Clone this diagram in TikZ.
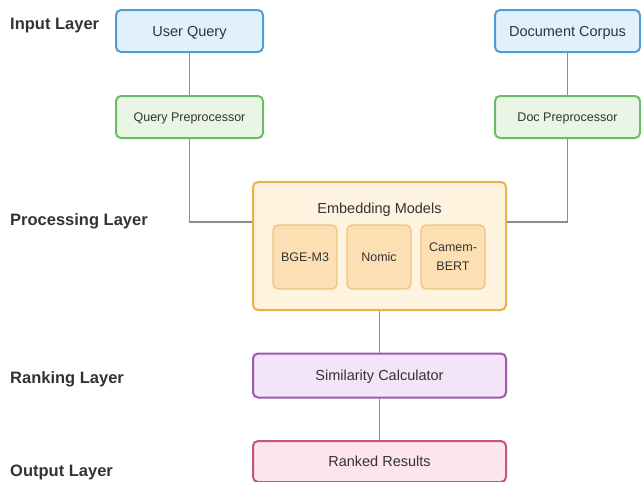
\documentclass[tikz,border=0pt]{standalone}
\usepackage{fontspec}
\setmainfont{Liberation Sans}
\usetikzlibrary{calc}
\definecolor{txt}{HTML}{333333}
\definecolor{wire}{HTML}{8C8C8C}
\definecolor{blueF}{HTML}{E2F0FB}\definecolor{blueD}{HTML}{4C9ED3}
\definecolor{greenF}{HTML}{E9F6E6}\definecolor{greenD}{HTML}{6DBA68}
\definecolor{orangeF}{HTML}{FEF3DF}\definecolor{orangeD}{HTML}{E9B14E}
\definecolor{innerF}{HTML}{FCE0B3}\definecolor{innerD}{HTML}{EFC27E}
\definecolor{purpleF}{HTML}{F4E4F8}\definecolor{purpleD}{HTML}{9A5AAD}
\definecolor{pinkF}{HTML}{FCE5EC}\definecolor{pinkD}{HTML}{C7527C}
\tikzset{
  box/.style={draw, line width=2pt, rounded corners=5pt, align=center,
    text=txt, inner sep=0pt},
  oneline/.style={text depth=0pt},
  inputbox/.style={box, oneline, fill=blueF, draw=blueD, font=\fontsize{14.5}{17}\selectfont},
  prepbox/.style={box, oneline, fill=greenF, draw=greenD, font=\fontsize{12.5}{15}\selectfont},
  modelbox/.style={box, line width=1.3pt, fill=innerF, draw=innerD,
    minimum width=64pt, minimum height=64pt, font=\fontsize{12.5}{19}\selectfont},
  layerlabel/.style={anchor=west, text=txt, inner sep=0pt,
    font=\fontsize{16.5}{19}\selectfont\bfseries},
  link/.style={draw=wire, line width=1.8pt}
}
\begin{document}
\begin{tikzpicture}[x=1pt, y=-1pt]
\useasboundingbox (0,0) rectangle (641,482);

% layer titles
\node[layerlabel] (lin)   at (10,26)  {Input Layer};
\node[layerlabel] (lproc) at (10,221) {Processing Layer};
\node[layerlabel] (lrank) at (10,379) {Ranking Layer};
\node[layerlabel] (lout)  at (10,472) {Output Layer};

% input sources
\node[inputbox, minimum width=147pt, minimum height=42pt] (uq) at (189.5,31) {User Query};
\node[inputbox, minimum width=145pt, minimum height=42pt] (dc) at (567.5,31) {Document Corpus};

% preprocessing
\node[prepbox, minimum width=147pt, minimum height=42pt] (qp) at (189.5,117) {Query Preprocessor};
\node[prepbox, minimum width=145pt, minimum height=42pt] (dp) at (567.5,117) {Doc Preprocessor};

% embedding container
\node[box, fill=orangeF, draw=orangeD, minimum width=253pt, minimum height=128pt] (emb) at (379.5,246) {};
\node[text=txt, inner sep=0pt, font=\fontsize{14.5}{17}\selectfont] (embt) at (379.5,210) {Embedding Models};
\node[modelbox, oneline] (bge) at (305,257) {BGE-M3};
\node[modelbox, oneline] (nom) at (379,257) {Nomic};
\node[modelbox] (cam) at (453,257) {Camem-\\BERT};

% ranking and output
\node[box, oneline, fill=purpleF, draw=purpleD, minimum width=253pt, minimum height=44pt,
  font=\fontsize{14.5}{17}\selectfont] (sim) at (379.5,375.5) {Similarity Calculator};
\node[box, oneline, fill=pinkF, draw=pinkD, minimum width=253pt, minimum height=41pt,
  font=\fontsize{14.5}{17}\selectfont] (rank) at (379.5,461.5) {Ranked Results};

% connectors
\path[link] (uq.south) -- (qp.north);
\path[link] (dc.south) -- (dp.north);
\path[link] (qp.south) |- ([yshift=24pt]emb.west);
\path[link] (dp.south) |- ([yshift=24pt]emb.east);
\path[link] (emb.south) -- (sim.north);
\path[link] (sim.south) -- (rank.north);
\end{tikzpicture}
\end{document}
